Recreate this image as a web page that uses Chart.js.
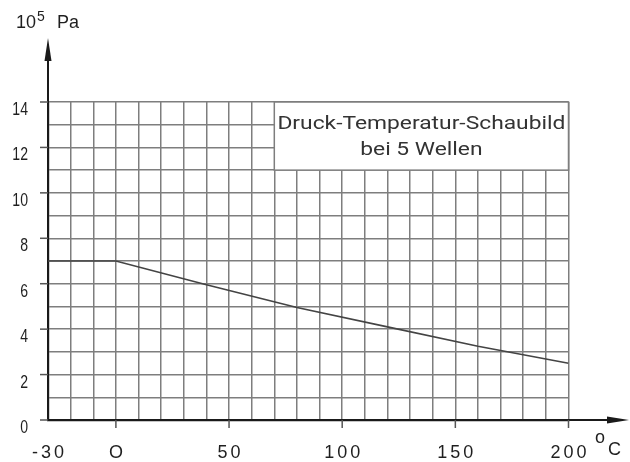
<!DOCTYPE html>
<html>
<head>
<meta charset="utf-8">
<script src="https://cdn.jsdelivr.net/npm/chart.js@4"></script>
<style>
  html, body { margin: 0; padding: 0; background: #fff; }
  #wrap { width: 630px; height: 462px; }
</style>
</head>
<body>
<div id="wrap"><canvas id="chart" width="630" height="462"></canvas></div>
<script>
// Druck-Temperatur-Kurve (Temperatur in °C, Druck in 10^5 Pa)
const temperatures = [-30, 0, 40, 80, 120, 160, 200];
const pressures = [7, 7, 5.95, 4.95, 4.1, 3.25, 2.5];

// Achsenbeschriftung
const xTickValues = [-30, 0, 50, 100, 150, 200];
const xTickLabels = ["-30", "O", "50", "100", "150", "200"];
const yTickValues = [0, 2, 4, 6, 8, 10, 12, 14];
const yTickLabels = ["0", "2", "4", "6", "8", "10", "12", "14"];

// Bereich des Schildes (Temperatur von/bis, Druck von/bis)
const boxTemps = [70, 200];
const boxPressures = [11, 14];
const boxLines = ["Druck-Temperatur-Schaubild", "bei 5 Wellen"];

const AXIS = "#1a1a1a";
const GRID = "#7e7e7e";
const TEXT = "#1f1f1f";

const diagramPlugin = {
  id: "diagram",
  beforeDatasetsDraw(chart) {
    // weisses Schild über dem Raster
    const { ctx, scales: { x, y } } = chart;
    const l = x.getPixelForValue(boxTemps[0]), r = x.getPixelForValue(boxTemps[1]);
    const t = y.getPixelForValue(boxPressures[1]), b = y.getPixelForValue(boxPressures[0]);
    ctx.save();
    ctx.fillStyle = "#fff";
    ctx.fillRect(l, t, r - l, b - t);
    ctx.strokeStyle = GRID;
    ctx.lineWidth = 1.5;
    ctx.strokeRect(l, t, r - l, b - t);

    ctx.fillStyle = "#333";
    ctx.font = "19px Roboto";
    ctx.textAlign = "center";
    ctx.textBaseline = "alphabetic";
    const cx = (l + r) / 2;
    const w = ctx.measureText(boxLines[0]).width;
    const sx = Math.min(1.2, 288 / w);
    ctx.translate(cx, 0);
    ctx.scale(sx, 1);
    ctx.fillText(boxLines[0], 0, t + 27);
    ctx.fillText(boxLines[1], 0, t + 53);
    ctx.restore();
  },
  afterDraw(chart) {
    const { ctx, chartArea: a, scales: { x, y } } = chart;
    ctx.save();
    ctx.strokeStyle = AXIS;
    ctx.fillStyle = AXIS;
    ctx.lineWidth = 2;

    // Pfeil der Druckachse
    ctx.beginPath();
    ctx.moveTo(a.left, a.top);
    ctx.lineTo(a.left, 58);
    ctx.stroke();
    ctx.beginPath();
    ctx.moveTo(a.left, 38);
    ctx.lineTo(a.left - 3.5, 61);
    ctx.lineTo(a.left + 3.5, 61);
    ctx.closePath();
    ctx.fill();

    // Pfeil der Temperaturachse
    ctx.beginPath();
    ctx.moveTo(a.right, a.bottom);
    ctx.lineTo(610, a.bottom);
    ctx.stroke();
    ctx.beginPath();
    ctx.moveTo(629, a.bottom);
    ctx.lineTo(607, a.bottom - 3.5);
    ctx.lineTo(607, a.bottom + 3.5);
    ctx.closePath();
    ctx.fill();

    // Teilstriche
    ctx.lineWidth = 1.5;
    ctx.strokeStyle = "#555";
    yTickValues.forEach(v => {
      const py = y.getPixelForValue(v);
      ctx.beginPath();
      ctx.moveTo(a.left - 8, py);
      ctx.lineTo(a.left, py);
      ctx.stroke();
    });
    xTickValues.forEach(v => {
      if (v === x.min) return;
      const px = x.getPixelForValue(v);
      ctx.beginPath();
      ctx.moveTo(px, a.bottom);
      ctx.lineTo(px, a.bottom + 8);
      ctx.stroke();
    });

    // Beschriftung der Druckachse (schmale Ziffern)
    ctx.fillStyle = TEXT;
    ctx.font = "19px 'Liberation Sans'";
    ctx.textAlign = "right";
    ctx.textBaseline = "alphabetic";
    yTickValues.forEach((v, i) => {
      const py = y.getPixelForValue(v);
      ctx.save();
      ctx.translate(28, py + 13);
      ctx.scale(0.74, 1);
      ctx.fillText(yTickLabels[i], 0, 0);
      ctx.restore();
    });

    // Beschriftung der Temperaturachse (gesperrt)
    ctx.textAlign = "left";
    ctx.font = "18px 'Liberation Sans'";
    ctx.letterSpacing = "3px";
    xTickValues.forEach((v, i) => {
      const px = x.getPixelForValue(v);
      const w = ctx.measureText(xTickLabels[i]).width - 3;
      ctx.fillText(xTickLabels[i], px - w / 2, 458);
    });
    ctx.letterSpacing = "0px";

    // Einheiten
    ctx.font = "18px 'Liberation Sans'";
    ctx.fillText("o", 595, 443);
    ctx.fillText("C", 608, 455);

    ctx.fillText("10", 16, 28);
    ctx.font = "14px 'Liberation Sans'";
    ctx.fillText("5", 37, 21);
    ctx.font = "18px 'Liberation Sans'";
    ctx.fillText("Pa", 57, 28);
    ctx.restore();
  }
};

new Chart(document.getElementById("chart"), {
  type: "scatter",
  data: {
    datasets: [{
      data: temperatures.map((t, i) => ({ x: t, y: pressures[i] })),
      showLine: true,
      borderColor: "#444",
      borderWidth: 1.6,
      pointRadius: 0,
      tension: 0,
      fill: false
    }]
  },
  options: {
    responsive: false,
    animation: false,
    events: [],
    layout: { padding: { left: 48, top: 102, right: 61.5, bottom: 42 } },
    plugins: { legend: { display: false }, tooltip: { enabled: false } },
    scales: {
      x: {
        type: "linear",
        min: -30,
        max: 200,
        ticks: { display: false, stepSize: 10 },
        grid: { color: GRID, lineWidth: 1.5, drawTicks: false },
        border: { color: AXIS, width: 2.2 }
      },
      y: {
        min: 0,
        max: 14,
        ticks: { display: false, stepSize: 1 },
        grid: { color: GRID, lineWidth: 1.5, drawTicks: false },
        border: { color: AXIS, width: 2.2 }
      }
    }
  },
  plugins: [diagramPlugin]
});
</script>
</body>
</html>
